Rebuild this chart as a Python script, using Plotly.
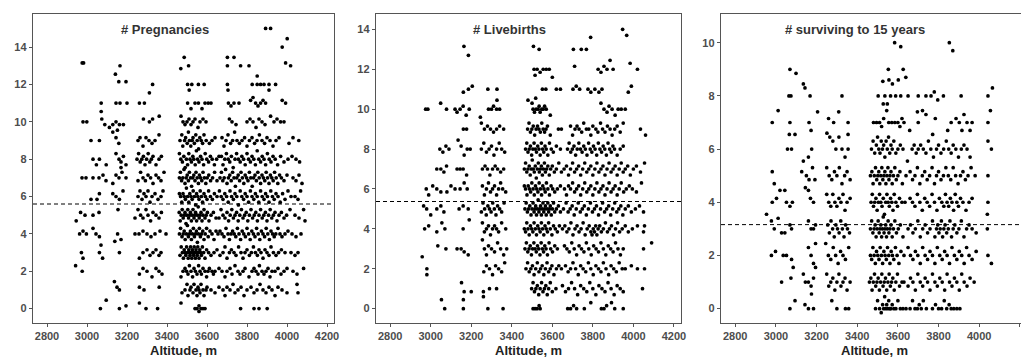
import plotly.graph_objects as go

# ---------------- data ----------------
# Each token: altitude in m, optional vertical jitter in steps ("3512+2" -> level + 2 steps)
JITTER_STEP = 0.15
preg_levels = {
    15: "3893 3918",
    14: "3976 4001+3",
    13: "2976+1 2983+1 3142-3 3165 3469-1 3486+3 3508 3702+3 3735+3 3702 3768 3810 3993+1 4018",
    12: "3159+1 3195+1 3312-3 3328 3503 3511-2 3524 3557 3586 3702 3705-2 3826 3851+3 3851 3868 3885 3910 3910-2 3943",
    11: "3071 3071-3 3145 3165 3200 3262 3287 3503 3520-2 3540 3557 3575-2 3590 3606 3620 3707 3720-1 3735 3760 3818+1 3830+2 3843 3855-1 3868 3880+1 3893 3976+1 3993",
    10: "2980 2999 3074+1 3089-1 3112-2 3129-1 3145 3152-3 3162-1 3182-1 3282+1 3312 3328+1 3361+2 3470+2 3480 3490-1 3500 3510+1 3520-1 3530 3540+1 3555-2 3565 3580+1 3595 3712+1 3725 3745-1 3800 3815+1 3830 3845-2 3860+1 3875 3890-1 3918+2 3935 3950+1 3968 3985",
    9: "3020 3062 3129+3 3145+1 3159-1 3255 3265+1 3280-2 3295+1 3310 3325-1 3340 3360+2 3465 3474+2 3479-2 3488 3493+1 3501-1 3507+3 3512 3519-2 3526 3530+1 3537-1 3544+2 3551 3558-3 3564+1 3571 3578-1 3585+2 3596 3612-1 3625 3640+1 3675+1 3685-2 3695 3705+2 3718-1 3728 3738+3 3750 3762-1 3775 3788+1 3800-2 3812 3825+1 3838-1 3850 3862+2 3875 3888-1 3900+1 3915 3930-2 3945 3960+1 4010-1 4030+1 4059",
    8: "3030 3047-2 3062 3096-2 3145+2 3160 3170-1 3170-3 3182+1 3195-2 3250 3258+2 3266-1 3274 3282+1 3290-2 3298 3306+2 3314-1 3322 3330+1 3345-2 3360 3372+1 3462+2 3469 3477-1 3484+1 3491-3 3497 3503-2 3509+2 3515 3522-1 3529+1 3534 3541-2 3547+3 3553 3560-1 3568+1 3575 3583-2 3591+2 3599 3608-1 3617+1 3626 3637-2 3648 3660+1 3672+1 3680-2 3689 3697+2 3706 3714-1 3722+1 3731-3 3740 3748+2 3757 3766-1 3774+1 3783 3791-2 3800+2 3808 3817-1 3825+1 3834 3842-2 3851+3 3859 3868-1 3876+1 3885 3893-2 3902+2 3911 3920-1 3930+1 3941 3953-2 3968+1 3985-1 4005 4025+1 4045 4063-1",
    7: "2975 2995 3030 3060 3080+1 3095-1 3129-2 3145+1 3160 3175+2 3195 3255-1 3268+2 3280 3292-1 3305+1 3318 3330-2 3345+1 3358 3370-1 3385+2 3462 3467+2 3473-1 3479 3485+3 3490-2 3496 3501+1 3507-1 3512+2 3518 3523-3 3529 3534+1 3540-1 3545+2 3551 3557-2 3562+1 3568 3574-1 3580+2 3587 3594-2 3601 3609+1 3618-1 3628 3638+2 3650-1 3665 3672+2 3679-1 3686 3693+3 3700-2 3707 3714+1 3721-1 3728+2 3735 3742-3 3749 3756+1 3763-1 3770+2 3777 3784-2 3791+1 3798 3805-1 3812+2 3819 3826-3 3833 3840+1 3847-1 3854+2 3861 3868-2 3875+1 3882 3889-1 3896+2 3903 3910-2 3917+1 3924 3931-1 3938+2 3946 3954-2 3963+1 3972 3985-1 4000+1 4030 4045-1 4060+1 4075-2",
    6: "3020-1 3050-1 3062+1 3129+1 3145 3162-1 3180+2 3255 3265+2 3275-1 3285+1 3295 3305+2 3315-2 3325 3340+1 3355-1 3370 3380+2 3462+1 3468 3474-2 3480+1 3486 3492-1 3497+3 3503 3509-2 3514+1 3520 3526-1 3531+2 3537 3543-3 3548+1 3554 3560-1 3566+2 3572 3578-2 3585+1 3592 3600-1 3608+2 3617 3627-1 3637+1 3650 3662+2 3671 3680-1 3689+1 3698 3706-2 3715+2 3723 3732-1 3740+1 3749 3757-3 3766+2 3774 3783-1 3791+1 3800 3808-2 3817+2 3825 3834-1 3842+1 3851 3859-2 3868+2 3876 3885-1 3893+1 3902 3910-2 3919+2 3927 3936-1 3945+1 3955 3966-2 3978+1 3990-1 4005+2 4020 4040 4055-1 4068+2",
    5: "2946-2 2968+1 2990 3030 3060+1 3155+2 3240-1 3255+2 3268 3280-1 3295+2 3305 3318-2 3330+1 3345 3360-1 3372+1 3461+1 3466-2 3471 3476+2 3481-1 3486 3490+1 3495-3 3499 3504+2 3508-1 3513 3517+1 3522-2 3526 3530+2 3535-1 3539 3543+1 3548-2 3552 3556+3 3561-1 3565 3570+1 3575-2 3580 3585+2 3590-1 3596 3602+1 3610-2 3620 3632+1 3645-1 3660-1 3670+2 3680 3690-1 3700+1 3708-2 3716 3724+2 3732-1 3740 3748+1 3756-2 3764 3772+2 3780-1 3788 3796+1 3804-2 3812 3820+2 3828-1 3836 3844+1 3852-2 3860 3868+2 3876-1 3884 3892+1 3900-2 3908 3916+2 3924-1 3932 3940+1 3950-2 3960 3972+1 3985-1 3998 4015+2 4040 4060-1 4083+2 4090-2",
    4: "2963 2980+1 2997 3030+2 3045 3062-1 3070-4 3153 3170-2 3240 3260 3280+1 3300 3320-1 3340 3365+1 3395 3462 3468+2 3475-1 3481 3486+1 3491-2 3497 3502+3 3507-1 3512 3517+1 3522-2 3527 3532+2 3537-1 3542 3547+1 3552-3 3557 3562+2 3567-1 3573 3579+1 3585-2 3591 3598+2 3606-1 3615+1 3625 3635-2 3645+1 3655 3665+1 3675 3685-1 3695+2 3705 3712-2 3720 3728+1 3736 3744-1 3752+2 3760 3768-2 3776+1 3784 3792-1 3800+2 3808 3816-2 3824+1 3832 3840-1 3848+2 3856 3864-2 3872+1 3880 3888-1 3896+2 3904 3912-2 3920+1 3928 3936-1 3944 3955+2 3965 3975-1 3990 4005+1 4025 4045-1 4070",
    3: "2972 2980-2 3062 3078-2 3139+4 3162 3262-2 3280 3300+1 3315-1 3330 3345+1 3360-1 3370 3465-1 3471+2 3477 3482-2 3486+1 3490 3494-1 3498+2 3502 3506-2 3509+1 3512 3515-1 3518+2 3521 3524-2 3527+1 3530 3533-1 3536+2 3539 3542-2 3545+1 3548 3551-1 3554+2 3557 3560-2 3564+1 3568 3572-1 3577+2 3583 3590-2 3598+1 3608 3620-1 3635 3650+1 3665-1 3680 3690+2 3700-2 3712 3722+1 3735 3745-1 3758+2 3770 3780-2 3790 3800+1 3812-1 3822 3832+2 3842 3852-1 3860+1 3870 3880-2 3890+1 3900 3910-1 3920+2 3932 3945-1 3958 3972+1 3990 4020 4040-1 4055",
    2: "2943+2 2976 3262-1 3280+1 3300 3325-2 3345+1 3360 3375-1 3470-2 3480 3490+1 3498 3505-1 3512+2 3520 3528-2 3535+1 3542 3550-1 3558+2 3565 3572-1 3580+1 3590 3598-2 3605 3612+1 3625 3632-1 3640 3660+1 3675 3690-2 3700 3715+1 3725-1 3740+2 3755 3765-1 3780 3790+1 3810-2 3825 3835+1 3845 3855-1 3862+2 3875 3885-1 3895 3905+1 3915-2 3925 3940 3955+1 3970-1 3985 4000+1 4030 4050-1 4083+1",
    1: "3137+3 3150+1 3162 3262+1 3285 3361+1 3475-1 3490 3500+2 3505-2 3515 3520+1 3530-1 3535+2 3545 3550-2 3555+1 3560 3565-1 3570+2 3580 3585-2 3595 3600+1 3620 3640-1 3660+1 3680 3690-2 3700+1 3715 3730+2 3740-1 3755 3770+1 3785-2 3800 3820+1 3835-1 3850 3865+2 3880 3895-1 3910+1 3925 3940-2 3955+1 3975 4000-1 4050+2 4055-1",
    0: "3067 3096+3 3162 3195+1 3262+2 3295 3353 3470+2 3540 3550 3560-1 3560+1 3570 3580 3590 3768 3835 3860 3901",
}

live_levels = {
    14: "3947 3967-2",
    13: "3164+1 3186-2 3507+1 3535 3704 3743 3768 3789+4",
    12: "3510 3515-2 3525 3540-1 3555 3570 3585 3710+1 3826 3840-1 3855+1 3870 3885+3 3900 3984+2 4020",
    11: "3161-1 3186 3205+1 3282 3327 3518-3 3551 3568 3600+4 3620 3640 3702 3718+1 3735 3776 3790-1 3810 3830-1 3845 3975-1 3990+1",
    10: "2975 2986 3049+2 3078 3120 3130-1 3145 3160+1 3175-2 3190 3285 3300 3310+1 3325 3327+3 3340 3480+3 3500+2 3505 3512-1 3520 3530 3535+1 3540-1 3548 3555 3562+1 3570 3590-2 3840+2 3855 3870-1 3880+1 3895 3910-2 3925 3940 3960",
    9: "3161 3177 3245+4 3250+2 3265 3280+1 3295 3310-1 3325 3340+1 3360 3478 3485+2 3492-1 3499 3506+1 3513-2 3520 3527+1 3534 3541-1 3548+2 3555 3562-1 3569 3576+1 3590-2 3630 3645 3690+1 3700-2 3712 3722+1 3732 3745-1 3755+2 3768 3780 3790-2 3800+1 3815 3825-1 3838+2 3848 3860-1 3872+1 3885 3895-2 3908 3920+1 3935-1 3950+2 4035 4060-2",
    8: "3045 3060-1 3075+1 3090 3135+3 3150+1 3165-2 3180 3195 3250 3262+2 3275-1 3288 3300+1 3312-2 3325 3338+2 3350 3365-1 3468 3474+2 3480-1 3486 3492+1 3498-2 3504 3510+2 3516 3522-1 3528+1 3534 3540-2 3546+2 3552 3558-1 3564+1 3570 3578-2 3586+2 3595 3605-1 3620+1 3640 3675 3683+2 3691-1 3699 3707+1 3715-2 3723 3731+2 3739 3747-1 3755+1 3763 3771-2 3779+2 3787 3795-1 3803+1 3811 3819-2 3827+2 3835 3843-1 3851+1 3859 3867-2 3875+2 3883 3891-1 3899+1 3907 3920-2 3935 3950+1",
    7: "3030 3050 3065-1 3078+1 3130 3145 3160 3177-2 3255 3268+1 3280 3292-2 3305 3318+1 3330 3345-1 3360 3462 3468+2 3474-1 3480 3486+1 3491-2 3496 3501+3 3506 3511-1 3516+1 3521-3 3526 3531+2 3536-1 3541 3546+1 3551-2 3556 3561+2 3566-1 3572 3578+1 3585-2 3592 3600+1 3610-1 3620 3632+2 3645-1 3658 3670+1 3680-2 3690 3700+2 3710-1 3720 3730+1 3740-2 3750 3760+2 3770-1 3780 3790+1 3800-2 3810 3820+2 3830-1 3840 3850+1 3860-2 3870 3880+2 3890-1 3900 3910+1 3920-2 3930 3940+2 3950-1 3960 3972+1 3985-2 4000 4015+1 4035-1 4055+2",
    6: "2978 2990-2 3010+1 3030 3050-1 3080-1 3100+1 3120 3145 3165+2 3180 3255+1 3265-2 3275 3285+2 3295-1 3305 3315+1 3325-2 3335 3345+2 3355 3370-1 3462+1 3468 3475-2 3481+1 3487 3493-1 3499+2 3505 3511-2 3517+1 3523 3529-1 3535+2 3541 3547-2 3553+1 3559 3565-1 3571+2 3578 3586-2 3594+1 3602 3612-1 3625 3640+1 3660 3670-2 3680+1 3690 3700+2 3710-1 3720 3730+1 3740-2 3750 3760+2 3770-1 3780 3790+1 3800-2 3810 3820+2 3830-1 3840 3850+1 3860-2 3870 3880+2 3890-1 3900 3910+1 3920-2 3930 3940+2 3952-1 3965 3980+1 3995 4015-1 4040+2",
    5: "2965+1 2980 3000-2 3030 3050+1 3065-1 3140 3160+1 3185 3250-1 3258+2 3266 3274-2 3282+1 3290 3298-1 3306+2 3314 3322-2 3330+1 3340 3350-1 3362+2 3465 3471+2 3477-1 3483 3489+1 3495-2 3500 3505+2 3510-1 3514 3518+1 3522-2 3526 3530+3 3534-1 3538 3542+1 3546-2 3550 3554+2 3558-1 3562 3566+1 3570-2 3574 3578+2 3582-1 3586 3590+1 3595-2 3600 3606+2 3612-1 3620 3630+1 3640-1 3655 3668+2 3678-1 3688 3698+1 3708-2 3718 3728+2 3738-1 3748 3758+1 3768-2 3778 3788+2 3798-1 3808 3818+1 3828-2 3838 3848+2 3858-1 3868 3878+1 3888-2 3898 3908+2 3918-1 3928 3938+1 3948-2 3960 3975+1 3990-1 4010 4030+1 4050-1",
    4: "2970 2990+1 3030-1 3055+2 3070 3160 3190+3 3255+2 3265-1 3275 3285+1 3295-2 3305 3315+1 3325 3335-1 3350+2 3370 3462 3468-1 3474+2 3480 3486-2 3492+1 3498 3504-1 3510+2 3516 3522-2 3528+1 3534 3540-1 3546+2 3552 3558-2 3564+1 3570 3576-1 3582+2 3590 3598-2 3606+1 3615 3625-1 3635+1 3650 3662+1 3672-1 3682 3692+2 3702-2 3712 3722+1 3732-1 3742 3752+2 3762-2 3772 3782+1 3790-1 3796-2 3802 3808-1 3814+1 3820-2 3826 3834+1 3842-1 3852 3862+2 3872-1 3882 3892+1 3902-2 3912 3922+2 3932-1 3945 3960+1 3975-1 3995 4020+1 4050-1 4055+1",
    3: "3035+1 3075 3130 3150 3165-1 3185-2 3255+3 3265 3275-2 3285+1 3300 3315-1 3330+2 3345 3360-2 3375 3465 3472+2 3479-1 3485 3491+1 3497-2 3503 3509+2 3515 3521-1 3527+1 3533 3539-2 3545+2 3551 3557-1 3563+1 3569 3576-2 3584+2 3592 3601-1 3612+1 3625 3660+1 3672 3684-1 3696+2 3708 3720-2 3732+1 3744 3756-1 3768+2 3780 3792-2 3804+1 3816 3828-1 3840+2 3852 3864-2 3876+1 3888 3900-1 3912+2 3924 3936-2 3950 4050 4090+2",
    2: "2958+4 2981 2981-2 3262-1 3275+1 3290 3305-2 3320+1 3335 3350-1 3365+2 3470 3478+2 3486-1 3494 3502+1 3510-2 3518 3526+2 3534-1 3542 3550+1 3558-2 3566 3574+2 3582-1 3590 3598+1 3608-2 3620 3632+1 3645 3665+1 3678-1 3690 3702+2 3715 3728-2 3740+1 3752 3765-1 3778+2 3790 3802-2 3815+1 3828 3840-1 3852+2 3865 3878-2 3890+1 3903 3916-1 3930+2 3945 3960 3990+1 4020 4055",
    1: "3152+2 3165-1 3200-1 3260-1 3290 3325 3498 3505+2 3512-1 3519 3526+1 3533-2 3540 3547+2 3554-1 3561 3568+1 3575-2 3582 3590+2 3600-1 3618 3650+1 3665-1 3680 3695+2 3710 3725-2 3740+1 3755 3770-1 3785+2 3800 3815-2 3830+1 3845 3860-1 3875+2 3890 3905-2 3920+1 3935 3950-1 4045",
    0: "3053+3 3069 3161+3 3161 3260+4 3282 3357 3505 3515 3525 3535+1 3540 3676 3690 3705+1 3720 3758 3790+2 3842 3855 3868+1 3892+2 3908 3950",
}

surv_levels = {
    10: "3584 3614-1 3853 3870-2",
    9: "3069 3099-1 3526-3 3553 3626 3639-2",
    8: "3064 3074 3135+3 3143+2 3168 3205-4 3309-4 3325 3503 3528-2 3536 3548-2 3556+4 3564 3573+3 3589 3602+4 3614 3650 3696-4 3700 3738 3763 3779+1 3796-1 3824 3911 4043 4065+2",
    7: "2982 3011+3 3069 3066-3 3094-3 3163 3173-2 3259+1 3284 3355 3355-3 3480 3495 3510 3520-1 3530+1 3545+3 3555 3570 3585 3600 3610-1 3620+1 3630 3658-2 3700 3721+3 3738+2 3771-3 3784+1 3845-2 3862 3886+1 3902 3915-2 3925+2 3940 3955-2 3965 4043 4055+3",
    6: "3057 3077 3135-3 3160-2 3176 3251+4 3265+3 3280+2 3295 3310+3 3325 3340-2 3355 3470 3478+2 3486-1 3494+1 3500+3 3506 3512-1 3518+2 3524 3530+1 3536-2 3542+2 3548 3554+3 3560-1 3566+1 3572 3580+2 3590-1 3600 3612+1 3625 3647-3 3670 3680+1 3690-1 3700 3712+1 3725 3738-1 3750+2 3762 3775-2 3790 3800+1 3812-1 3825 3838+2 3850 3862-1 3872+1 3885 3898-2 3912 3925+1 3940 3955-2 4043+2 4060",
    5: "2982+1 2992-2 3127+1 3145-3 3150 3163-1 3180+2 3192-1 3250+2 3262 3275-1 3288+1 3300 3312+2 3325-2 3338 3350+1 3365-1 3465 3472+1 3478-2 3484 3490+2 3496-1 3501 3506+1 3511-2 3516 3521+2 3526-1 3531 3536+1 3541-2 3546 3551+2 3556-1 3561 3566+1 3572-2 3578 3585+2 3592-1 3600 3610+1 3622-2 3640 3660+1 3672-1 3684 3696+2 3708-2 3720 3732+1 3744-1 3756 3768+2 3780-2 3790 3800+1 3812-1 3824 3836+2 3848 3860-1 3872+2 3884 3896-2 3908 3920+1 3932-1 3945 3960+2 3980 4043",
    4: "2954-3 2982 3003+1 3011-4 3020+3 3044+3 3052 3069-1 3081 3160+3 3170+1 3185 3250+2 3260 3270-1 3280+2 3290 3300-1 3310+1 3320 3330+2 3340-2 3350 3365+1 3468 3474+2 3480-1 3486 3492+1 3498-2 3504 3510+2 3516 3522-1 3528+1 3534-3 3540 3546+2 3552 3558-1 3564+1 3570 3576-2 3582+2 3590 3598-1 3608+1 3620 3635 3660+1 3672 3684-1 3696+2 3708 3720-2 3732+1 3744 3756-1 3768+2 3780 3792-2 3804+1 3816 3826-1 3834+2 3842 3850-1 3858+1 3866 3874-2 3882+2 3890 3898-1 3908+1 3920 3935-2 3950 3965+1 4040-3 4043",
    3: "2978+2 2992 3028-1 3044-1 3069+1 3077 3160+2 3173 3185 3195+1 3255+1 3263-1 3271+2 3279 3287-2 3295+1 3303 3311-1 3319+2 3327 3335-2 3343+1 3352 3362-1 3465 3471+2 3477-1 3483 3488+1 3493-2 3498 3503+2 3508-1 3512 3516+1 3520-2 3524 3528+3 3532-1 3536 3540+1 3544-2 3548 3552+2 3556-1 3561 3566+1 3572-2 3578 3585+2 3593-1 3602 3612+1 3625-2 3650 3662+1 3674-1 3686 3698+2 3710-2 3722 3734+1 3746-1 3758 3770+2 3782-2 3790 3796+1 3802-1 3808 3814+2 3820-2 3826 3832+1 3840-1 3848 3856+2 3864-2 3872 3880+1 3890-1 3900 3912+2 3925-2 3938 3950+1 3965 3985-1 4040",
    2: "2978 2998+1 3036 3052 3077-1 3085-3 3160+2 3173 3185-2 3195-3 3195+3 3245+3 3258 3270-1 3282+2 3294 3306-2 3318+1 3330 3342-1 3358+2 3465 3471-1 3477+2 3483 3489-2 3495+1 3501 3507-1 3513+2 3519 3525-2 3531+1 3537 3543-1 3549+2 3555 3561-2 3567+1 3573 3580-1 3588+2 3596 3605-2 3615+1 3630 3650+2 3662 3674-1 3686+1 3698 3710-2 3722+2 3734 3746-1 3758+1 3770 3782-2 3794+2 3806 3818-1 3830+1 3842 3854-2 3866+2 3878 3890-1 3902+1 3914 3926-2 3938+2 3950 3965-1 3985+1 4043 4060-2",
    1: "3028 3074+1 3135+2 3145 3160 3173-1 3175-3 3185+1 3250+2 3260-1 3270 3280+1 3290-2 3300 3310+2 3320-1 3330 3340+1 3350-2 3365 3460 3467+1 3473-2 3479 3485+2 3491-1 3497 3503+1 3509-2 3515 3521+2 3527-1 3533 3539+1 3545-2 3551 3557+2 3563-1 3569 3575+1 3582-2 3590 3598+2 3608-1 3620 3630 3650-1 3662+1 3674 3686-2 3698+2 3710 3722-1 3734+1 3746 3758-2 3770+2 3782 3794-1 3806+1 3818 3830-2 3842+2 3854 3866-1 3878+1 3890 3902-2 3914+2 3926 3940-1 3955+1 3975",
    0: "3069 3094+2 3143+1 3160 3185 3275+2 3300 3342 3358 3490 3500+2 3510 3518-1 3525+1 3530 3535+3 3540 3545+1 3550 3555+2 3560 3565 3572+1 3580 3590 3600+2 3612 3625 3640 3660 3672+2 3684 3696 3705+1 3715 3725+2 3740 3770 3785+1 3800 3815 3828+2 3840 3852+1 3862 3875 3890 3905",
}

panel_titles = ["# Pregnancies", "# Livebirths", "# surviving to 15 years"]
mean_lines = [5.6, 5.37, 3.16]
x_ticks = [2800, 3000, 3200, 3400, 3600, 3800, 4000, 4200]
y_ticks = [[0, 2, 4, 6, 8, 10, 12, 14], [0, 2, 4, 6, 8, 10, 12, 14], [0, 2, 4, 6, 8, 10]]
y_ranges = [[-0.77, 15.77], [-0.72, 14.77], [-0.54, 11.08]]
x_range = [2730, 4235]


def parse(levels):
    xs, ys = [], []
    for lvl, s in levels.items():
        for tok in s.split():
            if "+" in tok:
                a, d = tok.split("+")
                dy = int(d) * JITTER_STEP
            elif "-" in tok:
                a, d = tok.split("-")
                dy = -int(d) * JITTER_STEP
            else:
                a, dy = tok, 0.0
            xs.append(int(a))
            ys.append(lvl + dy)
    return xs, ys


# the page body has an 8px margin, so the figure is sized to fit inside the window
OFF = 8
W, H = 1029 - OFF, 357 - OFF


def px_x(p):
    return (p - OFF) / W


def px_y(p):
    return (H - (p - OFF)) / H


x_domains = [[px_x(33), px_x(334)], [px_x(376), px_x(681)], [px_x(721), px_x(1027)]]
y_domain = [px_y(323), px_y(14)]

font_fam = "Liberation Sans, Arial, sans-serif"
axis_col = "#555555"
tick_font = dict(family=font_fam, size=11, color="#4d4d4d", weight="bold")

fig = go.Figure()
layout = dict(
    width=W, height=H, margin=dict(l=0, r=0, t=0, b=0),
    paper_bgcolor="white", plot_bgcolor="white", showlegend=False,
    shapes=[], annotations=[],
)

for i, lv in enumerate([preg_levels, live_levels, surv_levels]):
    xs, ys = parse(lv)
    sfx = "" if i == 0 else str(i + 1)
    fig.add_trace(go.Scatter(
        x=xs, y=ys, mode="markers", xaxis="x" + sfx, yaxis="y" + sfx,
        marker=dict(size=3.7, color="black", line=dict(width=0)),
        hoverinfo="skip",
    ))
    common = dict(showline=True, mirror=True, linecolor=axis_col, linewidth=1.4,
                  ticks="outside", ticklen=3, tickwidth=1, tickcolor=axis_col,
                  showgrid=False, zeroline=False, tickfont=tick_font, automargin=False)
    layout["xaxis" + sfx] = dict(domain=x_domains[i], range=x_range, tickvals=x_ticks,
                                 anchor="y" + sfx, **common)
    layout["yaxis" + sfx] = dict(domain=y_domain, range=y_ranges[i], tickvals=y_ticks[i],
                                 anchor="x" + sfx, **common)
    layout["shapes"].append(dict(
        type="line", xref="x" + sfx + " domain", x0=0, x1=1,
        yref="y" + sfx, y0=mean_lines[i], y1=mean_lines[i],
        line=dict(color="black", width=1, dash="4px,3px"),
    ))
    layout["annotations"].append(dict(
        text=panel_titles[i], xref="x" + sfx, x=3390, yref="paper", y=px_y(30),
        showarrow=False, xanchor="center", yanchor="middle",
        font=dict(family=font_fam, size=13, color="#333333", weight="bold"),
    ))
    layout["annotations"].append(dict(
        text="Altitude, m", xref="paper", x=sum(x_domains[i]) / 2, yref="paper",
        y=px_y(350), showarrow=False, xanchor="center", yanchor="middle",
        font=dict(family=font_fam, size=13, color="#222222", weight="bold"),
    ))

fig.update_layout(**layout)
fig.write_html("out.html")
